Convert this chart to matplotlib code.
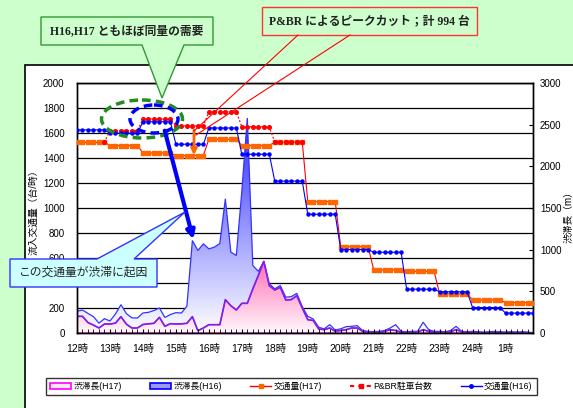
import numpy as np
import matplotlib
matplotlib.use('Agg')
import matplotlib.pyplot as plt
from matplotlib.patches import Polygon, Ellipse, Rectangle, FancyArrowPatch, Patch
from matplotlib.colors import LinearSegmentedColormap
from matplotlib.lines import Line2D

plt.rcParams['font.family'] = ['Liberation Sans', 'Noto Sans CJK JP']

# ---------------- data ----------------
hours = list(range(12, 26))
hour_labels = ['12時', '13時', '14時', '15時', '16時', '17時', '18時', '19時',
               '20時', '21時', '22時', '23時', '24時', '1時']
steps_per_hour = 6  # 10-minute samples

traffic_h16_hourly = [1625, 1598, 1690, 1510, 1640, 1430, 1215, 950, 668, 646, 350, 330, 204, 159]
traffic_h17_hourly = [1525, 1500, 1440, 1420, 1550, 1500, 1527, 1052, 690, 505, 493, 313, 264, 244]
# P&BR parking (H17 + parked cars), 12:50 .. 18:50
pbr_start_value = 1525
pbr_hourly = [1620, 1712, 1657, 1770, 1650, 1527]
pbr_first_hour = 13

jam_h16 = [262, 275, 235, 196, 118, 172, 144, 228, 340, 232, 182, 180,
           240, 248, 270, 300, 186, 222, 244, 240, 320, 1110, 990, 1070,
           1010, 1030, 1075, 1610, 970, 930, 1700, 2580, 810, 740, 856, 590,
           530, 570, 430, 436, 476, 316, 200, 168, 68, 50, 100, 36,
           50, 76, 80, 88, 28, 20, 15, 20, 30, 60, 100, 20,
           15, 20, 20, 130, 40, 20, 20, 15, 30, 80, 20, 15,
           20, 15, 10, 15, 20, 15, 10, 15, 10, 15, 10, 5]
jam_h17 = [200, 200, 125, 95, 60, 108, 108, 118, 196, 105, 60, 60,
           102, 110, 116, 188, 80, 112, 108, 110, 116, 196, 28, 60,
           100, 100, 100, 400, 328, 276, 356, 356, 528, 690, 860, 568,
           516, 548, 396, 400, 448, 300, 160, 150, 48, 40, 60, 20,
           30, 40, 60, 60, 20, 10, 10, 5, 20, 40, 30, 10,
           5, 10, 10, 40, 20, 10, 5, 10, 15, 40, 15, 10,
           10, 5, 5, 5, 10, 5, 5, 10, 5, 5, 5, 0]

n = len(hours) * steps_per_hour
t = 12 + np.arange(n) / steps_per_hour
h16 = np.repeat(traffic_h16_hourly, steps_per_hour).astype(float)
h17 = np.repeat(traffic_h17_hourly, steps_per_hour).astype(float)
pbr = np.full(n, np.nan)
i0 = (pbr_first_hour - 12) * steps_per_hour
pbr[i0 - 1] = pbr_start_value
pbr[i0:i0 + len(pbr_hourly) * steps_per_hour] = np.repeat(pbr_hourly, steps_per_hour)

# ---------------- figure ----------------
W, H = 573, 408
fig = plt.figure(figsize=(W / 100, H / 100), dpi=100, facecolor='#CCFFCC')
fig.patches.append(Rectangle((25 / W, -0.1), 1.2, (1 - 65 / H) + 0.1, transform=fig.transFigure,
                             facecolor='white', edgecolor='black', lw=1.2, zorder=-5))

ax = fig.add_axes([77 / W, 1 - 333 / H, (533 - 77) / W, (333 - 83) / H])
ax2 = ax.twinx()
ax.set_zorder(3)
ax.patch.set_visible(False)
ax2.set_zorder(2)
ax2.patch.set_visible(False)

ax.set_xlim(12, t[-1])
ax.set_ylim(0, 2000)
ax2.set_ylim(0, 3000)

# gridlines (left scale) drawn beneath areas
for v in range(0, 2001, 200):
    ax2.plot([0, 1], [v, v], transform=ax.get_yaxis_transform(), color='black', lw=0.9, zorder=0.5)


def grad_area(axis, x, y, top, bottom, edge, z):
    verts = [(x[0], 0)] + list(zip(x, y)) + [(x[-1], 0)]
    poly = Polygon(verts, closed=True, facecolor='none', edgecolor=edge, lw=0.9, zorder=z + 0.1)
    axis.add_patch(poly)
    cmap = LinearSegmentedColormap.from_list('g', [bottom, top])
    grad = np.linspace(0, 1, 256).reshape(-1, 1)
    im = axis.imshow(grad, cmap=cmap, extent=[x[0], x[-1], 0, max(y)], origin='lower',
                     aspect='auto', zorder=z, interpolation='bilinear')
    im.set_clip_path(poly)
    return poly


grad_area(ax2, t, np.array(jam_h16, float), '#2A2AFF', '#FFFFFF', '#3333FF', 1)
grad_area(ax2, t, np.array(jam_h17, float), '#FF6FB5', '#FFF8FB', '#FF00FF', 2)
ax2.plot(t, jam_h17, color='#7A22E8', lw=1.2, zorder=2.3)
ax2.set_xlim(12, t[-1])
ax2.set_ylim(0, 3000)

ax.plot(t, h17, color='#FF0000', lw=0.8, marker='s', ms=2.2, mfc='#FF6600', mec='#FF6600', zorder=3)
ax.plot(t, pbr, color='#FF0000', lw=0.9, ls=(0, (1.5, 1.5)), marker='o', ms=2.6,
        mfc='#FF0000', mec='#FF0000', zorder=4)
ax.plot(t, h16, color='#0000FF', lw=0.8, marker='o', ms=2.2, mfc='#0000FF', mec='#0000FF', zorder=5)

# axes styling
ax.set_yticks(range(0, 2001, 200))
ax.tick_params(axis='y', length=0, pad=9, labelsize=7)
ax2.set_yticks(range(0, 3001, 500))
ax2.tick_params(axis='y', direction='in', length=3, pad=5, labelsize=7)
ax.set_xticks(hours)
ax.set_xticklabels(hour_labels)
ax.set_xticks(t, minor=True)
ax.tick_params(axis='x', which='both', direction='in', length=3, pad=8, labelsize=7.5)
ax2.tick_params(axis='x', which='both', length=0)
for a in (ax, ax2):
    for s in a.spines.values():
        s.set_color('black')
        s.set_linewidth(1.0)

fig.text(33 / W, 1 - 210 / H, '流入交通量（台/時）', rotation=90, ha='center', va='center', fontsize=7)
fig.text(569 / W, 1 - 215 / H, '渋滞長（m）', rotation=90, ha='center', va='center', fontsize=7)

# ---------------- legend ----------------
handles = [Patch(facecolor='#FFE6F2', edgecolor='#FF00FF', lw=1.2),
           Patch(facecolor='#9999FF', edgecolor='#0000FF', lw=1.2),
           Line2D([], [], color='#FF0000', lw=1, marker='s', ms=3, mfc='#FF6600', mec='#FF6600'),
           Line2D([], [], color='#FF0000', lw=1.5, ls=(0, (2, 2)), marker='s', ms=3, mfc='#FF0000', mec='#FF0000'),
           Line2D([], [], color='#0000FF', lw=1, marker='o', ms=2.5, mfc='#0000FF', mec='#0000FF')]
labels = ['渋滞長(H17)', '渋滞長(H16)', '交通量(H17)', 'P&BR駐車台数', '交通量(H16)']
leg = fig.legend(handles, labels, loc='center', ncol=5, mode='expand',
                 bbox_to_anchor=(46 / W, 1 - 399 / H, (537 - 46) / W, 25 / H),
                 fontsize=6.3, frameon=True, fancybox=False, edgecolor='black',
                 handlelength=2.4, handleheight=0.7, handletextpad=0.3, borderpad=0.5,
                 borderaxespad=0)
leg.get_frame().set_linewidth(1.0)

# ---------------- annotations (pixel overlay) ----------------
ov = fig.add_axes([0, 0, 1, 1], zorder=10)
ov.set_xlim(0, W)
ov.set_ylim(H, 0)
ov.axis('off')
ov.patch.set_visible(False)

ov.add_patch(Polygon([(41, 17), (213, 17), (213, 45), (184, 45), (162, 98), (142, 45), (41, 45)],
                     closed=True, facecolor='#CCFFCC', edgecolor='#339933', lw=1.0))
ov.text(127, 31, 'H16,H17 ともほぼ同量の需要', ha='center', va='center', fontsize=8.5,
        family=['Liberation Serif', 'Noto Sans CJK JP'], fontweight='bold', color='#222222')

ov.add_patch(Rectangle((262, 7), 215, 28, facecolor='#CCFFCC', edgecolor='#FF3333', lw=1.0))
ov.text(369.5, 21, 'P&BR によるピークカット；計 994 台', ha='center', va='center', fontsize=8.5,
        family=['Liberation Serif', 'Noto Sans CJK JP'], fontweight='bold', color='#222222')
ov.plot([298, 194], [35, 131], color='#FF0000', lw=0.8)
ov.plot([350, 196], [35, 135], color='#FF0000', lw=0.8)

ov.add_patch(FancyArrowPatch((194, 127), (194, 158), arrowstyle='-|>', mutation_scale=9,
                             lw=2, color='#FF6600'))

ov.add_patch(Ellipse((142, 119), 81, 38, fill=False, edgecolor='#228B22', lw=2.5, ls=(0, (2.5, 1.5))))
ov.add_patch(Ellipse((154, 119), 48, 28, fill=False, edgecolor='#0000FF', lw=2.5, ls=(0, (2.5, 1.5))))
ov.add_patch(FancyArrowPatch((164, 128), (194, 242), arrowstyle='-|>', mutation_scale=12,
                             lw=3, color='#0000FF'))

ov.add_patch(Polygon([(10, 259), (97, 259), (185, 212), (134, 259), (157, 259), (157, 287), (10, 287)],
                     closed=True, facecolor='#CCFFFF', edgecolor='#3333FF', lw=1.0))
ov.text(83.5, 273, 'この交通量が渋滞に起因', ha='center', va='center', fontsize=8.5, color='#222222')

fig.savefig('out.png', dpi=100, facecolor=fig.get_facecolor())
